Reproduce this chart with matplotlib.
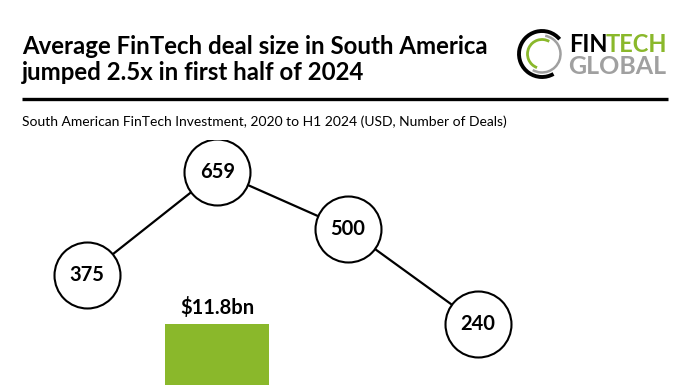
import numpy as np
import matplotlib
matplotlib.use("Agg")
import matplotlib.pyplot as plt
from matplotlib.patches import Arc

plt.rcParams['font.family'] = ['Lato', 'DejaVu Sans']

# data
years = ['2020', '2021', '2022', '2023']
deals = [375, 659, 500, 240]
bar_years = ['2021']
bar_values = [11.8]
bar_labels = ['$11.8bn']

W, H = 696, 385
fig = plt.figure(figsize=(W / 100, H / 100), dpi=100)

# overlay in pixel units for header and logo
deco = fig.add_axes([0, 0, 1, 1])
deco.set_xlim(0, W)
deco.set_ylim(H, 0)
deco.axis('off')

deco.text(22, 47, 'Average FinTech deal size in South America', fontsize=17.3, fontweight='bold',
          va='center', ha='left')
deco.text(22, 73, 'jumped 2.5x in first half of 2024', fontsize=17.3, fontweight='bold',
          va='center', ha='left')
deco.plot([22, 668], [99, 99], color='black', lw=2.4, solid_capstyle='butt')
deco.text(22, 122, 'South American FinTech Investment, 2020 to H1 2024 (USD, Number of Deals)',
          fontsize=10, va='center', ha='left')

# logo
cx, cy = 542, 54
deco.add_patch(Arc((cx, cy), 46, 46, theta1=60, theta2=320, color='black', lw=2.8))
deco.add_patch(Arc((cx, cy), 37, 37, theta1=-80, theta2=120, color='#a0a0a0', lw=1.8))
deco.add_patch(Arc((cx, cy), 29, 29, theta1=110, theta2=300, color='#8ab82b', lw=2.0))
deco.text(569, 44, 'FIN', fontsize=17, fontweight='bold', color='black', va='center', ha='left')
deco.text(606, 44, 'TECH', fontsize=17, fontweight='bold', color='#8ab82b', va='center', ha='left')
deco.text(568, 66, 'GLOBAL', fontsize=18, fontweight='bold', color='#a0a0a0', va='center',
          ha='left')

# chart area: from y=140 px down to the bottom edge
ax = fig.add_axes([0, 0, 1, 1 - 140 / H])
ax2 = ax.twinx()
x = np.arange(len(years))
xmin = -87 / 130.33
ax.set_xlim(xmin, xmin + W / 130.33)
ax.set_ylim(70.9, 745.8)
ax2.set_ylim(9.97, 17.32)

# bars live on the investment scale
bx = [years.index(y) for y in bar_years]
bars = ax2.bar(bx, bar_values, width=0.8, color='#8ab82b', zorder=1)
for b, lab in zip(bars, bar_labels):
    ax2.annotate(lab, (b.get_x() + b.get_width() / 2, b.get_height()), xytext=(0, 12),
                 textcoords='offset points', ha='center', va='center', fontsize=14.5,
                 fontweight='bold')

ax.set_zorder(ax2.get_zorder() + 1)
ax.patch.set_visible(False)
ax.plot(x, deals, color='black', lw=1.6, zorder=2)
ax.scatter(x, deals, s=2257, facecolor='white', edgecolor='black', linewidths=1.5, zorder=3)
for xi, v in zip(x, deals):
    ax.text(xi, v, str(v), ha='center', va='center', fontsize=14.5, fontweight='bold', zorder=4)

for a in (ax, ax2):
    a.axis('off')

fig.savefig('out.png', dpi=100)
